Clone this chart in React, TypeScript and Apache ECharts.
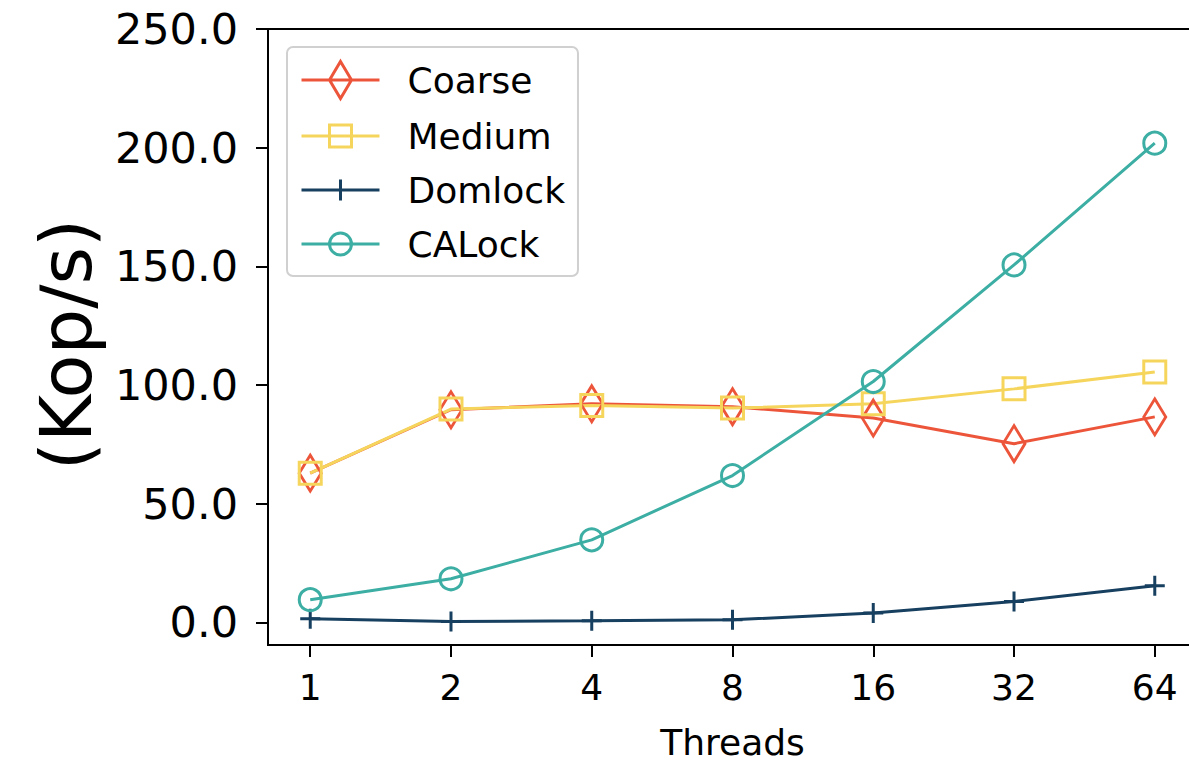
import { useEffect, useRef } from "react";
import * as echarts from "echarts";

// Throughput (Kop/s) of each locking scheme against thread count
const threads = [1, 2, 4, 8, 16, 32, 64];
const coarse = [62.9, 89.6, 92.1, 90.9, 86.1, 75.3, 86.6];
const medium = [62.9, 89.9, 91.4, 90.3, 92.1, 98.4, 105.5];
const domlock = [1.6, 0.4, 0.7, 1.1, 4.0, 8.8, 15.5];
const calock = [9.6, 18.4, 34.8, 61.9, 101.5, 150.6, 201.9];
const yTicks = [0, 50, 100, 150, 200, 250];

const seriesNames = ["Coarse", "Medium", "Domlock", "CALock"];
const seriesColors = ["#ED553B", "#F6D55C", "#173F5F", "#3CAEA3"];

const FONT = "DejaVu Sans";

// Legend handles: a line with the series marker drawn over its middle
const legendIcons = [
  "path://M0,19L78,19M39,0.5L50,19L39,37.5L28,19Z",
  "path://M0,19L78,19M28,8L50,8L50,30L28,30Z",
  "path://M0,19L78,19M39,8.5L39,29.5",
  "path://M0,19L78,19M50,19A11,11,0,1,1,28,19A11,11,0,1,1,50,19Z",
];

export default function App() {
  const ref = useRef<HTMLDivElement>(null);

  useEffect(() => {
    const chart = echarts.init(ref.current!, null, { renderer: "svg" });
    const idx = threads.map((_, i) => i);

    const line = (
      name: string,
      values: number[],
      color: string,
      symbol: string,
      symbolSize: number | number[]
    ) => ({
      name,
      type: "line",
      data: values.map((v, i) => [i, v]),
      symbol,
      symbolSize,
      showAllSymbol: true,
      lineStyle: { color, width: 3 },
      itemStyle: { color: "rgba(0,0,0,0)", borderColor: color, borderWidth: 3 },
      emphasis: { disabled: true },
    });

    chart.setOption({
      animation: false,
      backgroundColor: "#fff",
      textStyle: { fontFamily: FONT },
      grid: {
        left: 268,
        top: 29,
        right: -8,
        bottom: 116,
        show: true,
        borderColor: "#000",
        borderWidth: 2,
        backgroundColor: "transparent",
        containLabel: false,
        outerBoundsMode: "none",
      },
      xAxis: {
        type: "value",
        min: -0.3,
        max: 6.3,
        axisLine: { show: false, onZero: false },
        splitLine: { show: false },
        axisTick: {
          show: true,
          customValues: idx,
          length: 12,
          lineStyle: { color: "#000", width: 2 },
        },
        axisLabel: {
          customValues: idx,
          formatter: (v: number) => String(threads[Math.round(v)]),
          fontFamily: FONT,
          fontSize: 36,
          color: "#000",
          margin: 24,
        },
        name: "Threads",
        nameLocation: "middle",
        nameGap: 79,
        nameTextStyle: { fontFamily: FONT, fontSize: 36, color: "#000" },
      },
      yAxis: {
        type: "value",
        min: -9.5,
        max: 250,
        axisLine: { show: false, onZero: false },
        splitLine: { show: false },
        axisTick: {
          show: true,
          customValues: yTicks,
          length: 12,
          lineStyle: { color: "#000", width: 2 },
        },
        axisLabel: {
          customValues: yTicks,
          formatter: (v: number) => v.toFixed(1),
          fontFamily: FONT,
          fontSize: 43,
          color: "#000",
          margin: 30,
        },
        name: "(Kop/s)",
        nameLocation: "middle",
        nameGap: 166,
        nameTextStyle: {
          fontFamily: FONT,
          fontSize: 72,
          color: "#000",
          padding: [0, 15, 0, 0],
        },
      },
      legend: {
        orient: "vertical",
        left: 287,
        top: 47,
        itemWidth: 78,
        itemHeight: 38,
        itemGap: 18,
        padding: [13, 13, 14, 13],
        backgroundColor: "#fff",
        borderColor: "#d0d0d0",
        borderWidth: 2,
        borderRadius: 6,
        symbolKeepAspect: true,
        selectedMode: false,
        textStyle: {
          fontFamily: FONT,
          fontSize: 36,
          color: "#000",
          padding: [0, 0, 0, 23],
        },
        data: seriesNames.map((name, i) => ({
          name,
          icon: legendIcons[i],
          itemStyle: {
            color: "rgba(0,0,0,0)",
            borderColor: seriesColors[i],
            borderWidth: 3,
          },
        })),
      },
      series: [
        line("Coarse", coarse, seriesColors[0], "path://M11,0L22,18L11,36L0,18Z", [22, 36]),
        line("Medium", medium, seriesColors[1], "rect", 22),
        line("Domlock", domlock, seriesColors[2], "path://M10,0L10,20M0,10L20,10", 20),
        line("CALock", calock, seriesColors[3], "circle", 22),
      ],
    });

    return () => chart.dispose();
  }, []);

  return (
    <div
      ref={ref}
      style={{ position: "fixed", left: 0, top: 0, width: 1189, height: 761, background: "#fff" }}
    />
  );
}
